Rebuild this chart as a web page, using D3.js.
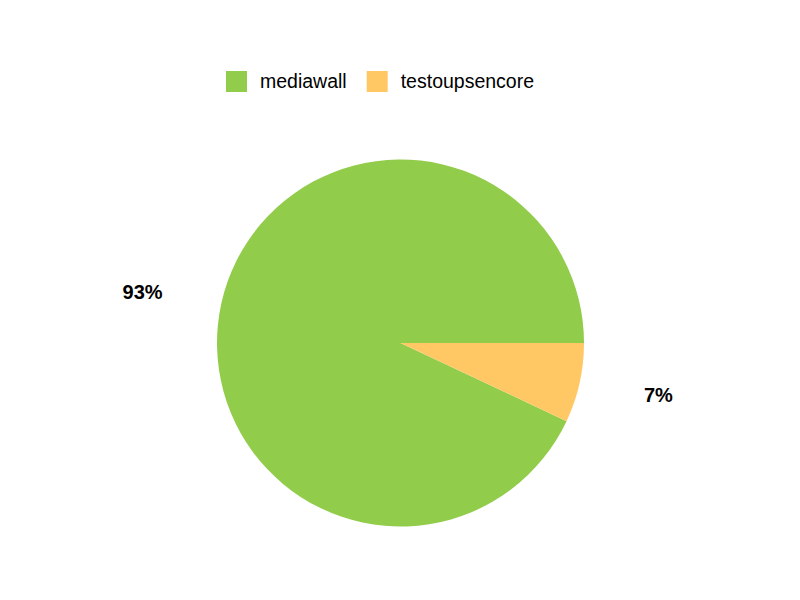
<!DOCTYPE html>
<html><head><meta charset="utf-8">
<script src="https://cdn.jsdelivr.net/npm/d3@7"></script>
<style>body{margin:0;background:#fff}svg{display:block}</style>
</head><body>
<svg id="c" width="800" height="600"></svg>
<script>
const categories = ["mediawall", "testoupsencore"];
const values = [93, 7];
const colors = ["#92cc4b", "#ffc864"];

const svg = d3.select("#c");
const cx = 400.5, cy = 343, r = 183.5, labelR = 263;
const font = "Liberation Sans, Arial, sans-serif";

const pie = d3.pie().sort(null).value(d => d)
  .startAngle(Math.PI / 2 + 2 * Math.PI).endAngle(Math.PI / 2);
const arcs = pie(values);
const arc = d3.arc().innerRadius(0).outerRadius(r);
const g = svg.append("g").attr("transform", `translate(${cx},${cy})`);
g.selectAll("path").data(arcs).join("path")
  .attr("d", arc).attr("fill", (d, i) => colors[i]);

const off = -1.3 * Math.PI / 180;
g.selectAll("text").data(arcs).join("text")
  .attr("x", d => labelR * Math.sin((d.startAngle + d.endAngle) / 2 + off))
  .attr("y", d => -labelR * Math.cos((d.startAngle + d.endAngle) / 2 + off))
  .attr("text-anchor", "middle").attr("dy", "0.36em")
  .attr("font-family", font).attr("font-weight", "bold").attr("font-size", 20)
  .attr("fill", "#000")
  .text((d, i) => Math.round(values[i] / d3.sum(values) * 100) + "%");

// legend
let lx = 226;
const leg = svg.append("g");
categories.forEach((c, i) => {
  leg.append("rect").attr("x", lx).attr("y", 71).attr("width", 21).attr("height", 21)
    .attr("fill", colors[i]);
  const t = leg.append("text").attr("x", lx + 34).attr("y", 88)
    .attr("font-family", font).attr("font-size", 19.5).attr("fill", "#000").text(c);
  lx = lx + 34 + t.node().getComputedTextLength() + 20;
});
</script>
</body></html>
